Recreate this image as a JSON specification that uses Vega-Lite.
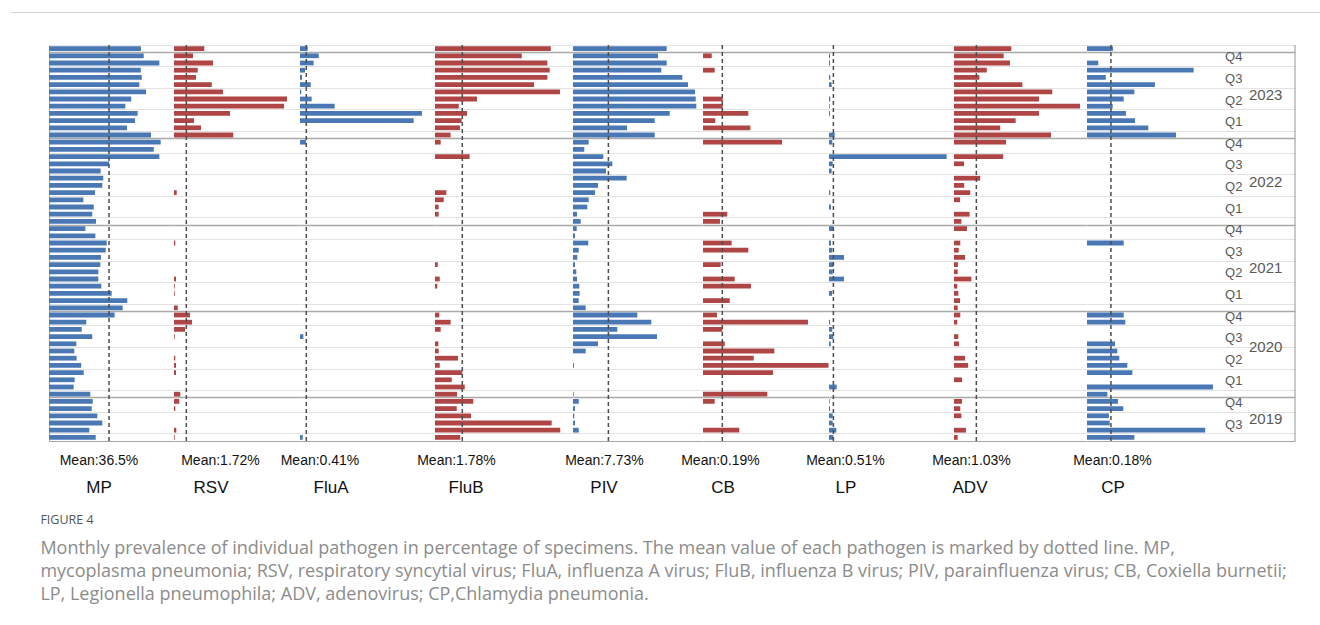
{
"$schema":"https://vega.github.io/schema/vega-lite/v6.json",
"background":"white",
"padding":{"left":10,"top":11,"right":0,"bottom":5},
"spacing":30,
"config":{"view":{"stroke":null},"font":"Liberation Sans","concat":{"spacing":0}},
"datasets":{"m":[
{"month":"2024-01","MP":55.9,"RSV":4.23,"FluA":0.5,"FluB":7.55,"PIV":20.47,"ADV":2.64,"CP":0.195},
{"month":"2023-12","MP":57.6,"RSV":2.65,"FluA":1.22,"FluB":5.66,"PIV":18.57,"CB":0.086,"LP":0.12,"ADV":2.29},
{"month":"2023-11","MP":67.1,"RSV":5.45,"FluA":0.89,"FluB":7.33,"PIV":20.47,"LP":0.12,"ADV":2.58,"CP":0.085},
{"month":"2023-10","MP":55.8,"RSV":3.31,"FluA":0.33,"FluB":7.48,"PIV":19.29,"CB":0.115,"ADV":1.51,"CP":0.802},
{"month":"2023-09","MP":56.4,"RSV":3.07,"FluA":0.13,"FluB":7.33,"PIV":23.88,"LP":0.15,"ADV":1.17,"CP":0.141},
{"month":"2023-08","MP":54.9,"RSV":5.27,"FluA":0.7,"FluB":6.46,"PIV":25.13,"LP":0.31,"ADV":3.15,"CP":0.511},
{"month":"2023-07","MP":59.0,"RSV":6.84,"FluA":0.08,"FluB":8.15,"PIV":26.65,"ADV":4.53,"CP":0.356},
{"month":"2023-06","MP":50.0,"RSV":15.78,"FluA":0.76,"FluB":2.74,"PIV":26.81,"CB":0.194,"LP":0.15,"ADV":3.92,"CP":0.276},
{"month":"2023-05","MP":46.4,"RSV":15.37,"FluA":2.26,"FluB":1.55,"PIV":26.94,"CB":0.194,"LP":0.08,"ADV":5.81,"CP":0.193},
{"month":"2023-04","MP":53.9,"RSV":7.82,"FluA":7.95,"FluB":2.09,"PIV":21.13,"CB":0.446,"LP":0.12,"ADV":3.92,"CP":0.293},
{"month":"2023-03","MP":52.3,"RSV":2.79,"FluA":7.41,"FluB":1.74,"PIV":17.85,"CB":0.121,"ADV":2.84,"CP":0.361},
{"month":"2023-02","MP":47.4,"RSV":3.77,"FluB":1.63,"PIV":11.8,"CB":0.466,"ADV":2.13,"CP":0.461},
{"month":"2023-01","MP":62.0,"RSV":8.28,"FluB":1.02,"PIV":17.85,"LP":0.66,"ADV":4.47,"CP":0.669},
{"month":"2022-12","MP":67.9,"FluA":0.39,"FluB":0.37,"PIV":3.43,"CB":0.778,"LP":0.38,"ADV":2.4},
{"month":"2022-11","MP":63.7,"PIV":2.47},
{"month":"2022-10","MP":67.1,"FluB":2.26,"PIV":6.62,"LP":13.65,"ADV":2.27},
{"month":"2022-09","MP":36.5,"PIV":8.59,"LP":0.43,"ADV":0.46},
{"month":"2022-08","MP":31.4,"PIV":7.21,"LP":0.31},
{"month":"2022-07","MP":33.0,"PIV":11.73,"ADV":1.21},
{"month":"2022-06","MP":32.4,"PIV":5.46,"ADV":0.47},
{"month":"2022-05","MP":28.0,"RSV":0.38,"FluB":0.74,"PIV":4.81,"LP":0.15,"ADV":0.75},
{"month":"2022-04","MP":20.9,"FluB":0.57,"PIV":3.43,"ADV":0.28},
{"month":"2022-03","MP":27.2,"FluB":0.24,"PIV":3.12,"LP":0.23},
{"month":"2022-02","MP":26.3,"FluB":0.24,"PIV":0.87,"CB":0.239,"ADV":0.72},
{"month":"2022-01","MP":28.6,"PIV":1.68,"CB":0.167,"ADV":0.34},
{"month":"2021-12","MP":22.1,"PIV":0.81,"LP":0.5,"ADV":0.6},
{"month":"2021-11","MP":28.2,"PIV":0.44},
{"month":"2021-10","MP":35.1,"RSV":0.18,"PIV":3.34,"CB":0.282,"LP":0.23,"ADV":0.29,"CP":0.276},
{"month":"2021-09","MP":34.5,"PIV":1.25,"CB":0.446,"LP":0.38,"ADV":0.22},
{"month":"2021-08","MP":31.6,"PIV":0.94,"LP":1.74,"ADV":0.51},
{"month":"2021-07","MP":31.2,"FluB":0.18,"PIV":0.44,"CB":0.174,"LP":0.5,"ADV":0.18},
{"month":"2021-06","MP":30.0,"PIV":0.72,"LP":0.43,"ADV":0.17},
{"month":"2021-05","MP":30.0,"RSV":0.28,"FluB":0.31,"PIV":0.87,"CB":0.312,"LP":1.74,"ADV":0.8},
{"month":"2021-04","MP":31.8,"RSV":0.1,"FluB":0.15,"PIV":1.38,"CB":0.472,"ADV":0.15},
{"month":"2021-03","MP":38.1,"RSV":0.1,"PIV":1.46,"LP":0.35,"ADV":0.2},
{"month":"2021-02","MP":47.6,"PIV":1.25,"CB":0.263,"ADV":0.28},
{"month":"2021-01","MP":44.8,"RSV":0.52,"PIV":2.77,"ADV":0.17},
{"month":"2020-12","MP":39.9,"RSV":2.23,"FluB":0.28,"PIV":14.05,"CB":0.138,"ADV":0.29,"CP":0.276},
{"month":"2020-11","MP":22.7,"RSV":2.51,"FluB":1.02,"PIV":17.11,"CB":1.033,"LP":0.12,"ADV":0.15,"CP":0.288},
{"month":"2020-10","MP":19.9,"RSV":1.54,"FluB":0.37,"PIV":9.68,"CB":0.19,"LP":0.38},
{"month":"2020-09","MP":26.3,"RSV":0.1,"FluA":0.22,"PIV":18.35,"LP":0.5,"ADV":0.2},
{"month":"2020-08","MP":16.6,"FluB":0.22,"PIV":5.46,"CB":0.214,"LP":0.2,"ADV":0.23,"CP":0.211},
{"month":"2020-07","MP":15.4,"FluB":0.24,"PIV":2.77,"CB":0.702,"CP":0.228},
{"month":"2020-06","MP":16.8,"RSV":0.18,"FluB":1.5,"CB":0.499,"ADV":0.51,"CP":0.243},
{"month":"2020-05","MP":19.6,"RSV":0.28,"FluB":0.31,"PIV":0.22,"CB":1.235,"ADV":0.65,"CP":0.303},
{"month":"2020-04","MP":21.1,"RSV":0.28,"FluB":1.78,"CB":0.689,"CP":0.341},
{"month":"2020-03","MP":15.6,"FluB":1.09,"ADV":0.37},
{"month":"2020-02","MP":15.0,"FluB":1.94,"LP":0.89,"CP":0.947},
{"month":"2020-01","MP":25.1,"RSV":0.88,"FluB":1.44,"PIV":0.15,"CB":0.633,"CP":0.153},
{"month":"2019-12","MP":26.6,"RSV":0.74,"FluB":2.5,"PIV":1.25,"CB":0.115,"LP":0.08,"ADV":0.37,"CP":0.233},
{"month":"2019-11","MP":26.0,"RSV":0.18,"FluB":1.42,"PIV":0.44,"LP":0.12,"ADV":0.29,"CP":0.273},
{"month":"2019-10","MP":29.4,"FluB":2.35,"PIV":0.28,"LP":0.43,"ADV":0.34,"CP":0.165},
{"month":"2019-09","MP":32.4,"FluB":7.61,"PIV":0.44,"LP":0.43,"CP":0.171},
{"month":"2019-08","MP":24.5,"RSV":0.32,"FluB":8.17,"PIV":1.25,"CB":0.357,"LP":0.85,"ADV":0.55,"CP":0.889},
{"month":"2019-07","MP":28.4,"RSV":0.1,"FluA":0.18,"FluB":1.65,"LP":0.5,"ADV":0.17,"CP":0.356}
]},
"title":{"text":"FIGURE 4","subtitle":["Monthly prevalence of individual pathogen in percentage of specimens. The mean value of each pathogen is marked by dotted line. MP,","mycoplasma pneumonia; RSV, respiratory syncytial virus; FluA, influenza A virus; FluB, influenza B virus; PIV, parainfluenza virus; CB, Coxiella burnetii;","LP, Legionella pneumophila; ADV, adenovirus; CP,Chlamydia pneumonia."],"orient":"bottom","anchor":"start","dx":30,"offset":18,"font":"Open Sans","fontSize":12.5,"fontWeight":"normal","color":"#555555","subtitleFont":"Open Sans","subtitleFontSize":18,"subtitleColor":"#8c8c8c","subtitleLineHeight":23,"subtitlePadding":13},
"vconcat":[
{"width":1310,"height":1,"data":{"values":[{}]},"mark":{"type":"rule","color":"#d3d3d3","strokeWidth":1.2},
 "encoding":{"x":{"datum":0,"type":"quantitative","scale":{"domain":[0,1],"nice":false},"axis":null},"x2":{"datum":1}}},
{"bounds":"flush","spacing":0,"resolve":{"scale":{"y":"shared"}},
"hconcat":[
{"width":38,"height":396,"data":{"values":[]},"mark":"point"},
{"width":125,"height":396,
 "title":{"text":"MP","orient":"bottom","anchor":"middle","dx":-12.5,"offset":13,"fontSize":17,"fontWeight":"normal","baseline":"top","color":"#111111","font":"Liberation Sans"},
 "layer":[
  {"data":{"name":"m"},"mark":{"type":"bar","height":{"band":0.66},"color":"#4a78b4"},
   "encoding":{
    "y":{"field":"month","type":"ordinal","sort":"descending","scale":{"paddingInner":0,"paddingOuter":0},"axis":{"title":null,"labels":false,"ticks":false,"domain":true,"domainColor":"#a6a6a6","grid":true,"bandPosition":0,"values":["2024-01","2023-12","2023-10","2023-07","2023-04","2023-01","2022-12","2022-10","2022-07","2022-04","2022-01","2021-12","2021-10","2021-07","2021-04","2021-01","2020-12","2020-10","2020-07","2020-04","2020-01","2019-12","2019-10","2019-07"],"gridColor":{"condition":{"test":"indexof(datum.value,'-12')>0","value":"#a9a9a9"},"value":"#e2e2e2"},"gridWidth":{"condition":{"test":"indexof(datum.value,'-12')>0","value":1.4},"value":1}}},
    "x":{"field":"MP","type":"quantitative","scale":{"domain":[0,76],"nice":false,"zero":true},"axis":{"title":"Mean:36.5%","labels":false,"ticks":false,"grid":false,"domain":true,"domainColor":"#a6a6a6","titleX":49.5,"titleY":23,"titleAlign":"center","titleBaseline":"alphabetic","titleFontSize":14,"titleFontWeight":"normal","titleColor":"#111111","titleFont":"Liberation Sans"}}}},
  {"data":{"values":[{}]},"mark":{"type":"rule","color":"#4d4d4d","strokeDash":[4,3],"strokeWidth":1.5},"encoding":{"x":{"datum":36.5}}}
 ]},
{"width":126,"height":396,
 "title":{"text":"RSV","orient":"bottom","anchor":"middle","dx":-26,"offset":13,"fontSize":17,"fontWeight":"normal","baseline":"top","color":"#111111","font":"Liberation Sans"},
 "layer":[
  {"data":{"name":"m"},"mark":{"type":"bar","height":{"band":0.66},"color":"#b04545"},
   "encoding":{
    "y":{"field":"month","type":"ordinal","sort":"descending","scale":{"paddingInner":0,"paddingOuter":0},"axis":{"title":null,"labels":false,"ticks":false,"domain":false,"grid":true,"bandPosition":0,"values":["2024-01","2023-12","2023-10","2023-07","2023-04","2023-01","2022-12","2022-10","2022-07","2022-04","2022-01","2021-12","2021-10","2021-07","2021-04","2021-01","2020-12","2020-10","2020-07","2020-04","2020-01","2019-12","2019-10","2019-07"],"gridColor":{"condition":{"test":"indexof(datum.value,'-12')>0","value":"#a9a9a9"},"value":"#e2e2e2"},"gridWidth":{"condition":{"test":"indexof(datum.value,'-12')>0","value":1.4},"value":1}}},
    "x":{"field":"RSV","type":"quantitative","scale":{"domain":[0,17.6],"nice":false,"zero":true},"axis":{"title":"Mean:1.72%","labels":false,"ticks":false,"grid":false,"domain":true,"domainColor":"#a6a6a6","titleX":46,"titleY":23,"titleAlign":"center","titleBaseline":"alphabetic","titleFontSize":14,"titleFontWeight":"normal","titleColor":"#111111","titleFont":"Liberation Sans"}}}},
  {"data":{"values":[{}]},"mark":{"type":"rule","color":"#4d4d4d","strokeDash":[4,3],"strokeWidth":1.5},"encoding":{"x":{"datum":1.72}}}
 ]},
{"width":135,"height":396,
 "title":{"text":"FluA","orient":"bottom","anchor":"middle","dx":-36.5,"offset":13,"fontSize":17,"fontWeight":"normal","baseline":"top","color":"#111111","font":"Liberation Sans"},
 "layer":[
  {"data":{"name":"m"},"mark":{"type":"bar","height":{"band":0.66},"color":"#4a78b4"},
   "encoding":{
    "y":{"field":"month","type":"ordinal","sort":"descending","scale":{"paddingInner":0,"paddingOuter":0},"axis":{"title":null,"labels":false,"ticks":false,"domain":false,"grid":true,"bandPosition":0,"values":["2024-01","2023-12","2023-10","2023-07","2023-04","2023-01","2022-12","2022-10","2022-07","2022-04","2022-01","2021-12","2021-10","2021-07","2021-04","2021-01","2020-12","2020-10","2020-07","2020-04","2020-01","2019-12","2019-10","2019-07"],"gridColor":{"condition":{"test":"indexof(datum.value,'-12')>0","value":"#a9a9a9"},"value":"#e2e2e2"},"gridWidth":{"condition":{"test":"indexof(datum.value,'-12')>0","value":1.4},"value":1}}},
    "x":{"field":"FluA","type":"quantitative","scale":{"domain":[0,8.8],"nice":false,"zero":true},"axis":{"title":"Mean:0.41%","labels":false,"ticks":false,"grid":false,"domain":true,"domainColor":"#a6a6a6","titleX":19.5,"titleY":23,"titleAlign":"center","titleBaseline":"alphabetic","titleFontSize":14,"titleFontWeight":"normal","titleColor":"#111111","titleFont":"Liberation Sans"}}}},
  {"data":{"values":[{}]},"mark":{"type":"rule","color":"#4d4d4d","strokeDash":[4,3],"strokeWidth":1.5},"encoding":{"x":{"datum":0.41}}}
 ]},
{"width":138,"height":396,
 "title":{"text":"FluB","orient":"bottom","anchor":"middle","dx":-38,"offset":13,"fontSize":17,"fontWeight":"normal","baseline":"top","color":"#111111","font":"Liberation Sans"},
 "layer":[
  {"data":{"name":"m"},"mark":{"type":"bar","height":{"band":0.66},"color":"#b04545"},
   "encoding":{
    "y":{"field":"month","type":"ordinal","sort":"descending","scale":{"paddingInner":0,"paddingOuter":0},"axis":{"title":null,"labels":false,"ticks":false,"domain":false,"grid":true,"bandPosition":0,"values":["2024-01","2023-12","2023-10","2023-07","2023-04","2023-01","2022-12","2022-10","2022-07","2022-04","2022-01","2021-12","2021-10","2021-07","2021-04","2021-01","2020-12","2020-10","2020-07","2020-04","2020-01","2019-12","2019-10","2019-07"],"gridColor":{"condition":{"test":"indexof(datum.value,'-12')>0","value":"#a9a9a9"},"value":"#e2e2e2"},"gridWidth":{"condition":{"test":"indexof(datum.value,'-12')>0","value":1.4},"value":1}}},
    "x":{"field":"FluB","type":"quantitative","scale":{"domain":[0,9],"nice":false,"zero":true},"axis":{"title":"Mean:1.78%","labels":false,"ticks":false,"grid":false,"domain":true,"domainColor":"#a6a6a6","titleX":21,"titleY":23,"titleAlign":"center","titleBaseline":"alphabetic","titleFontSize":14,"titleFontWeight":"normal","titleColor":"#111111","titleFont":"Liberation Sans"}}}},
  {"data":{"values":[{}]},"mark":{"type":"rule","color":"#4d4d4d","strokeDash":[4,3],"strokeWidth":1.5},"encoding":{"x":{"datum":1.78}}}
 ]},
{"width":130,"height":396,
 "title":{"text":"PIV","orient":"bottom","anchor":"middle","dx":-34,"offset":13,"fontSize":17,"fontWeight":"normal","baseline":"top","color":"#111111","font":"Liberation Sans"},
 "layer":[
  {"data":{"name":"m"},"mark":{"type":"bar","height":{"band":0.66},"color":"#4a78b4"},
   "encoding":{
    "y":{"field":"month","type":"ordinal","sort":"descending","scale":{"paddingInner":0,"paddingOuter":0},"axis":{"title":null,"labels":false,"ticks":false,"domain":false,"grid":true,"bandPosition":0,"values":["2024-01","2023-12","2023-10","2023-07","2023-04","2023-01","2022-12","2022-10","2022-07","2022-04","2022-01","2021-12","2021-10","2021-07","2021-04","2021-01","2020-12","2020-10","2020-07","2020-04","2020-01","2019-12","2019-10","2019-07"],"gridColor":{"condition":{"test":"indexof(datum.value,'-12')>0","value":"#a9a9a9"},"value":"#e2e2e2"},"gridWidth":{"condition":{"test":"indexof(datum.value,'-12')>0","value":1.4},"value":1}}},
    "x":{"field":"PIV","type":"quantitative","scale":{"domain":[0,28.4],"nice":false,"zero":true},"axis":{"title":"Mean:7.73%","labels":false,"ticks":false,"grid":false,"domain":true,"domainColor":"#a6a6a6","titleX":31,"titleY":23,"titleAlign":"center","titleBaseline":"alphabetic","titleFontSize":14,"titleFontWeight":"normal","titleColor":"#111111","titleFont":"Liberation Sans"}}}},
  {"data":{"values":[{}]},"mark":{"type":"rule","color":"#4d4d4d","strokeDash":[4,3],"strokeWidth":1.5},"encoding":{"x":{"datum":7.73}}}
 ]},
{"width":126,"height":396,
 "title":{"text":"CB","orient":"bottom","anchor":"middle","dx":-43,"offset":13,"fontSize":17,"fontWeight":"normal","baseline":"top","color":"#111111","font":"Liberation Sans"},
 "layer":[
  {"data":{"name":"m"},"mark":{"type":"bar","height":{"band":0.66},"color":"#b04545"},
   "encoding":{
    "y":{"field":"month","type":"ordinal","sort":"descending","scale":{"paddingInner":0,"paddingOuter":0},"axis":{"title":null,"labels":false,"ticks":false,"domain":false,"grid":true,"bandPosition":0,"values":["2024-01","2023-12","2023-10","2023-07","2023-04","2023-01","2022-12","2022-10","2022-07","2022-04","2022-01","2021-12","2021-10","2021-07","2021-04","2021-01","2020-12","2020-10","2020-07","2020-04","2020-01","2019-12","2019-10","2019-07"],"gridColor":{"condition":{"test":"indexof(datum.value,'-12')>0","value":"#a9a9a9"},"value":"#e2e2e2"},"gridWidth":{"condition":{"test":"indexof(datum.value,'-12')>0","value":1.4},"value":1}}},
    "x":{"field":"CB","type":"quantitative","scale":{"domain":[0,1.24],"nice":false,"zero":true},"axis":{"title":"Mean:0.19%","labels":false,"ticks":false,"grid":false,"domain":true,"domainColor":"#a6a6a6","titleX":17,"titleY":23,"titleAlign":"center","titleBaseline":"alphabetic","titleFontSize":14,"titleFontWeight":"normal","titleColor":"#111111","titleFont":"Liberation Sans"}}}},
  {"data":{"values":[{}]},"mark":{"type":"rule","color":"#4d4d4d","strokeDash":[4,3],"strokeWidth":1.5},"encoding":{"x":{"datum":0.19}}}
 ]},
{"width":125,"height":396,
 "title":{"text":"LP","orient":"bottom","anchor":"middle","dx":-45.5,"offset":13,"fontSize":17,"fontWeight":"normal","baseline":"top","color":"#111111","font":"Liberation Sans"},
 "layer":[
  {"data":{"name":"m"},"mark":{"type":"bar","height":{"band":0.66},"color":"#4a78b4"},
   "encoding":{
    "y":{"field":"month","type":"ordinal","sort":"descending","scale":{"paddingInner":0,"paddingOuter":0},"axis":{"title":null,"labels":false,"ticks":false,"domain":false,"grid":true,"bandPosition":0,"values":["2024-01","2023-12","2023-10","2023-07","2023-04","2023-01","2022-12","2022-10","2022-07","2022-04","2022-01","2021-12","2021-10","2021-07","2021-04","2021-01","2020-12","2020-10","2020-07","2020-04","2020-01","2019-12","2019-10","2019-07"],"gridColor":{"condition":{"test":"indexof(datum.value,'-12')>0","value":"#a9a9a9"},"value":"#e2e2e2"},"gridWidth":{"condition":{"test":"indexof(datum.value,'-12')>0","value":1.4},"value":1}}},
    "x":{"field":"LP","type":"quantitative","scale":{"domain":[0,14.5],"nice":false,"zero":true},"axis":{"title":"Mean:0.51%","labels":false,"ticks":false,"grid":false,"domain":true,"domainColor":"#a6a6a6","titleX":16,"titleY":23,"titleAlign":"center","titleBaseline":"alphabetic","titleFontSize":14,"titleFontWeight":"normal","titleColor":"#111111","titleFont":"Liberation Sans"}}}},
  {"data":{"values":[{}]},"mark":{"type":"rule","color":"#4d4d4d","strokeDash":[4,3],"strokeWidth":1.5},"encoding":{"x":{"datum":0.51}}}
 ]},
{"width":133,"height":396,
 "title":{"text":"ADV","orient":"bottom","anchor":"middle","dx":-50.5,"offset":13,"fontSize":17,"fontWeight":"normal","baseline":"top","color":"#111111","font":"Liberation Sans"},
 "layer":[
  {"data":{"name":"m"},"mark":{"type":"bar","height":{"band":0.66},"color":"#b04545"},
   "encoding":{
    "y":{"field":"month","type":"ordinal","sort":"descending","scale":{"paddingInner":0,"paddingOuter":0},"axis":{"title":null,"labels":false,"ticks":false,"domain":false,"grid":true,"bandPosition":0,"values":["2024-01","2023-12","2023-10","2023-07","2023-04","2023-01","2022-12","2022-10","2022-07","2022-04","2022-01","2021-12","2021-10","2021-07","2021-04","2021-01","2020-12","2020-10","2020-07","2020-04","2020-01","2019-12","2019-10","2019-07"],"gridColor":{"condition":{"test":"indexof(datum.value,'-12')>0","value":"#a9a9a9"},"value":"#e2e2e2"},"gridWidth":{"condition":{"test":"indexof(datum.value,'-12')>0","value":1.4},"value":1}}},
    "x":{"field":"ADV","type":"quantitative","scale":{"domain":[0,6.13],"nice":false,"zero":true},"axis":{"title":"Mean:1.03%","labels":false,"ticks":false,"grid":false,"domain":true,"domainColor":"#a6a6a6","titleX":17,"titleY":23,"titleAlign":"center","titleBaseline":"alphabetic","titleFontSize":14,"titleFontWeight":"normal","titleColor":"#111111","titleFont":"Liberation Sans"}}}},
  {"data":{"values":[{}]},"mark":{"type":"rule","color":"#4d4d4d","strokeDash":[4,3],"strokeWidth":1.5},"encoding":{"x":{"datum":1.03}}}
 ]},
{"width":208,"height":396,
 "title":{"text":"CP","orient":"bottom","anchor":"middle","dx":-78,"offset":13,"fontSize":17,"fontWeight":"normal","baseline":"top","color":"#111111","font":"Liberation Sans"},
 "layer":[
  {"data":{"name":"m"},"mark":{"type":"bar","height":{"band":0.66},"color":"#4a78b4"},
   "encoding":{
    "y":{"field":"month","type":"ordinal","sort":"descending","scale":{"paddingInner":0,"paddingOuter":0},"axis":{"title":null,"labels":false,"ticks":false,"domain":false,"grid":true,"bandPosition":0,"values":["2024-01","2023-12","2023-10","2023-07","2023-04","2023-01","2022-12","2022-10","2022-07","2022-04","2022-01","2021-12","2021-10","2021-07","2021-04","2021-01","2020-12","2020-10","2020-07","2020-04","2020-01","2019-12","2019-10","2019-07"],"gridColor":{"condition":{"test":"indexof(datum.value,'-12')>0","value":"#a9a9a9"},"value":"#e2e2e2"},"gridWidth":{"condition":{"test":"indexof(datum.value,'-12')>0","value":1.4},"value":1}}},
    "x":{"field":"CP","type":"quantitative","scale":{"domain":[0,1.564],"nice":false,"zero":true},"axis":{"title":"Mean:0.18%","labels":false,"ticks":false,"grid":false,"domain":true,"domainColor":"#a6a6a6","titleX":25,"titleY":23,"titleAlign":"center","titleBaseline":"alphabetic","titleFontSize":14,"titleFontWeight":"normal","titleColor":"#111111","titleFont":"Liberation Sans"}}}},
  {"data":{"values":[{}]},"mark":{"type":"rule","color":"#4d4d4d","strokeDash":[4,3],"strokeWidth":1.5},"encoding":{"x":{"datum":0.18}}},
  {"data":{"values":[{}]},"mark":{"type":"rule","color":"#a6a6a6","strokeWidth":1.2},"encoding":{"x":{"datum":1.564}}},
  {"data":{"values":[
    {"month":"2023-12","q":"Q4"},{"month":"2023-09","q":"Q3"},{"month":"2023-06","q":"Q2"},{"month":"2023-03","q":"Q1"},
    {"month":"2022-12","q":"Q4"},{"month":"2022-09","q":"Q3"},{"month":"2022-06","q":"Q2"},{"month":"2022-03","q":"Q1"},
    {"month":"2021-12","q":"Q4"},{"month":"2021-09","q":"Q3"},{"month":"2021-06","q":"Q2"},{"month":"2021-03","q":"Q1"},
    {"month":"2020-12","q":"Q4"},{"month":"2020-09","q":"Q3"},{"month":"2020-06","q":"Q2"},{"month":"2020-03","q":"Q1"},
    {"month":"2019-12","q":"Q4"},{"month":"2019-09","q":"Q3"}]},
   "mark":{"type":"text","align":"left","baseline":"middle","dy":1.5,"fontSize":13,"color":"#595959","font":"Liberation Sans"},
   "encoding":{"y":{"field":"month","type":"ordinal","sort":"descending","scale":{"paddingInner":0,"paddingOuter":0}},"x":{"datum":1.038},"text":{"field":"q"}}},
  {"data":{"values":[
    {"month":"2023-06","yr":"2023"},{"month":"2022-06","yr":"2022"},{"month":"2021-06","yr":"2021"},{"month":"2020-07","yr":"2020"},{"month":"2019-09","yr":"2019"}]},
   "mark":{"type":"text","align":"left","baseline":"middle","fontSize":15,"color":"#595959","font":"Liberation Sans"},
   "encoding":{"y":{"field":"month","type":"ordinal","sort":"descending","scale":{"paddingInner":0,"paddingOuter":0},"bandPosition":0},"x":{"datum":1.218},"text":{"field":"yr"}}}
 ]}
]}
]
}
